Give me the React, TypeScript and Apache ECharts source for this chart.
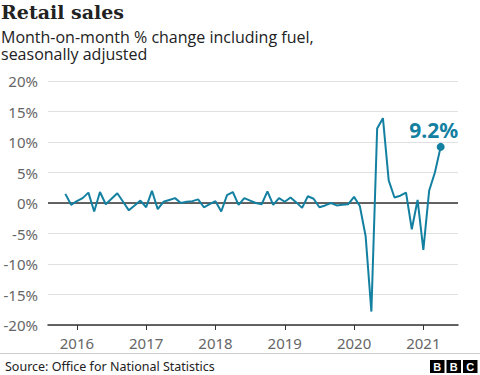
import React, { useEffect, useRef } from "react";
import * as echarts from "echarts";

// Monthly categories Aug 2015 – Jul 2021 (first 3 and last 3 are empty padding months)
const startYear = 2015;
const startMonth = 8;
const monthCount = 72;
const categories: string[] = [];
for (let i = 0; i < monthCount; i++) {
  const m = startMonth - 1 + i;
  const y = startYear + Math.floor(m / 12);
  const mm = (m % 12) + 1;
  categories.push(`${y}-${mm < 10 ? "0" + mm : mm}`);
}

// Retail sales, month-on-month % change incl. fuel, Nov 2015 – Apr 2021
const retailValues: number[] = [
  1.5, -0.3, 0.3, 0.8, 1.7, -1.4, 1.8, -0.2, 0.7, 1.6, 0.2, -1.2, // Nov15 - Oct16
  -0.4, 0.4, -0.7, 2.0, -1.0, 0.2, 0.5, 0.8, 0.0, 0.2, 0.3, 0.6, // Nov16 - Oct17
  -0.7, -0.2, 0.3, -1.4, 1.3, 1.8, -0.3, 0.8, 0.4, 0.0, -0.2, 1.9, // Nov17 - Oct18
  -0.3, 0.8, 0.2, 0.9, 0.1, -0.8, 1.1, 0.7, -0.7, -0.4, 0.0, -0.4, // Nov18 - Oct19
  -0.3, -0.2, 1.0, -0.5, -5.4, -17.8, 12.2, 13.9, 3.7, 0.9, 1.2, 1.7, // Nov19 - Oct20
  -4.3, 0.5, -7.7, 2.0, 5.0, 9.2, // Nov20 - Apr21
];
const leadingPad = 3;
const trailingPad = 3;
const lastLabel = "9.2%";

const yTicks = { min: -20, max: 20, interval: 5 };

const TEAL = "#1380A1";
const SANS = "Noto Sans";

export default function App() {
  const ref = useRef<HTMLDivElement>(null);

  useEffect(() => {
    if (!ref.current) return;
    const chart = echarts.init(ref.current, null, { renderer: "svg" });

    const seriesData: (number | null)[] = [
      ...Array(leadingPad).fill(null),
      ...retailValues,
      ...Array(trailingPad).fill(null),
    ];
    const lastIndex = leadingPad + retailValues.length - 1;
    const isJan = (_i: number, v: string) => v.endsWith("-01");

    const subStyle = {
      fontFamily: "Open Sans",
      fontWeight: "normal",
      fontSize: 16,
      lineHeight: 16,
      color: "#222222",
    };

    chart.setOption({
      animation: false,
      backgroundColor: "#ffffff",
      title: [
        {
          text: "Retail sales",
          left: 1,
          top: 1,
          padding: 0,
          textStyle: {
            fontFamily: "DejaVu Serif",
            fontWeight: "bold",
            fontSize: 19,
            lineHeight: 22,
            color: "#222222",
          },
        },
        {
          text: "Month-on-month % change including fuel,",
          left: 1,
          top: 28.5,
          padding: 0,
          textStyle: subStyle,
        },
        {
          text: "seasonally adjusted",
          left: 1,
          top: 46,
          padding: 0,
          textStyle: subStyle,
        },
      ],
      grid: { left: 48, right: 22, top: 81, bottom: 50 },
      xAxis: {
        type: "category",
        data: categories,
        boundaryGap: false,
        axisLine: { onZero: false, lineStyle: { color: "#333333", width: 1.5 } },
        axisTick: {
          show: true,
          interval: isJan,
          length: 5,
          lineStyle: { color: "#333333", width: 1 },
        },
        axisLabel: {
          interval: isJan,
          formatter: (v: string) => v.slice(0, 4),
          color: "#666666",
          fontFamily: SANS,
          fontSize: 15,
          margin: 10,
        },
        splitLine: { show: false },
      },
      yAxis: {
        type: "value",
        min: yTicks.min,
        max: yTicks.max,
        interval: yTicks.interval,
        axisLine: { show: false },
        axisTick: { show: false },
        axisLabel: {
          formatter: "{value}%",
          color: "#666666",
          fontFamily: SANS,
          fontSize: 15,
          margin: 10,
        },
        splitLine: { lineStyle: { color: "#e0e0e0", width: 1 } },
      },
      series: [
        {
          type: "line",
          data: seriesData,
          showSymbol: false,
          connectNulls: false,
          lineStyle: { color: TEAL, width: 2 },
          itemStyle: { color: TEAL },
          z: 5,
          markLine: {
            silent: true,
            symbol: ["none", "none"],
            label: { show: false },
            lineStyle: { color: "#333333", width: 1.5, type: "solid" },
            data: [{ yAxis: 0 }],
            z: 3,
          },
          markPoint: {
            silent: true,
            data: [
              {
                coord: [categories[lastIndex], retailValues[retailValues.length - 1]],
                symbol: "circle",
                symbolSize: 8,
                itemStyle: { color: TEAL },
                label: {
                  show: true,
                  position: "top",
                  distance: 2,
                  offset: [-7, 0],
                  formatter: lastLabel,
                  color: TEAL,
                  fontFamily: SANS,
                  fontWeight: "bold",
                  fontSize: 21,
                },
              },
            ],
          },
        },
      ],
      graphic: [
        {
          type: "line",
          shape: { x1: 0, y1: 353.5, x2: 480, y2: 353.5 },
          style: { stroke: "#cccccc", lineWidth: 1 },
        },
        {
          type: "text",
          x: 5,
          y: 366.5,
          style: {
            text: "Source: Office for National Statistics",
            fontFamily: SANS,
            fontSize: 12.5,
            fill: "#222222",
            verticalAlign: "middle",
          },
        },
        ...["B", "B", "C"].flatMap((ch, i) => [
          {
            type: "rect",
            shape: { x: 430 + i * 16.5, y: 360, width: 14.5, height: 13 },
            style: { fill: "#000000" },
          },
          {
            type: "text",
            x: 430 + i * 16.5 + 7.25,
            y: 366.8,
            style: {
              text: ch,
              fontFamily: "Liberation Sans",
              fontWeight: "bold",
              fontSize: 11,
              fill: "#ffffff",
              align: "center",
              verticalAlign: "middle",
            },
          },
        ]),
      ],
    });

    return () => chart.dispose();
  }, []);

  return (
    <div
      ref={ref}
      style={{ position: "fixed", left: 0, top: 0, width: 480, height: 375, background: "#fff" }}
    />
  );
}
